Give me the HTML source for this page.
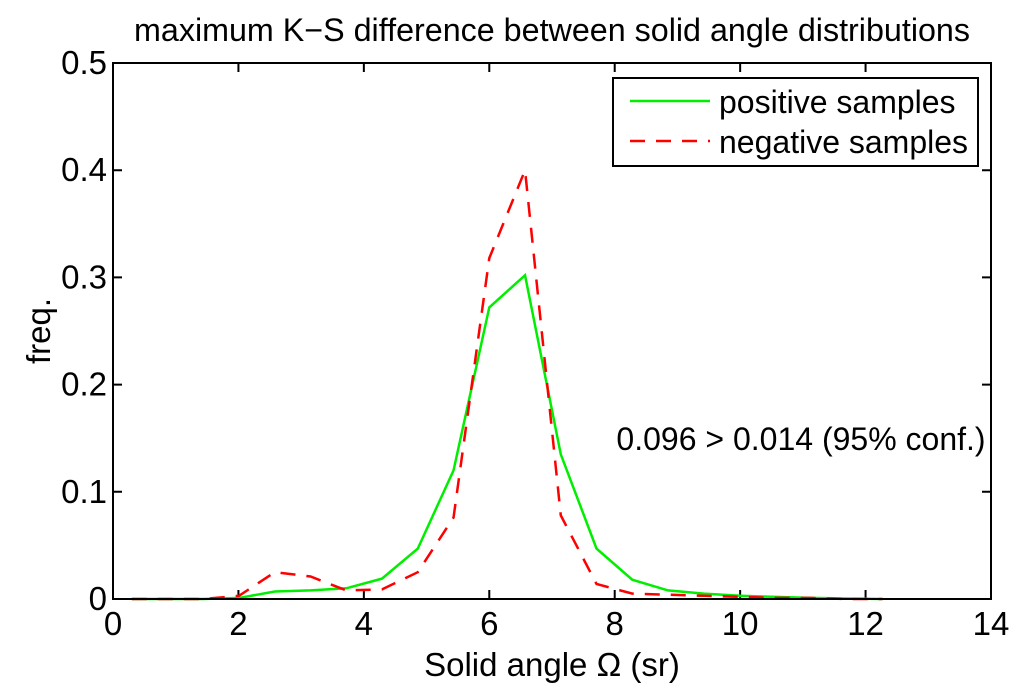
<!DOCTYPE html>
<html><head><meta charset="utf-8"><style>
body{margin:0;background:#fff;}
svg text{font-family:"Liberation Sans",sans-serif;fill:#000;}
</style></head><body>
<svg id="chart" width="1024" height="691">
<text x="552" y="41" font-size="32" text-anchor="middle" textLength="836" lengthAdjust="spacingAndGlyphs">maximum K−S difference between solid angle distributions</text>
<g id="ticks"></g>
<g id="series"></g>
<rect x="113" y="63" width="878" height="536" fill="none" stroke="#000" stroke-width="2"/>
<text x="552" y="676" font-size="33" text-anchor="middle">Solid angle Ω (sr)</text>
<text transform="translate(50,331) rotate(-90)" font-size="33" text-anchor="middle">freq.</text>
<text x="801" y="450" font-size="32" text-anchor="middle">0.096 &gt; 0.014 (95% conf.)</text>
<g>
<rect x="613" y="78" width="365" height="88" fill="#fff" stroke="#000" stroke-width="2"/>
<line x1="630" y1="101" x2="710" y2="101" stroke="#00ee00" stroke-width="2.5"/>
<text x="719" y="113" font-size="32">positive samples</text>
<line x1="630" y1="141" x2="710" y2="141" stroke="#ff0000" stroke-width="2.5" stroke-dasharray="15,11"/>
<text x="719" y="153" font-size="32">negative samples</text>
</g>
</svg>
<script>
const xCenters=[0.3,0.87,1.44,2.01,2.58,3.15,3.72,4.29,4.86,5.43,6.0,6.57,7.14,7.71,8.28,8.85,9.42,10.0,10.56,11.13,11.7,12.27];
const positive=[0,0,0,0.001,0.007,0.008,0.01,0.019,0.047,0.12,0.272,0.302,0.135,0.047,0.018,0.008,0.005,0.003,0.002,0.001,0.0005,0];
const negative=[0,0,0,0.003,0.025,0.021,0.008,0.009,0.025,0.076,0.318,0.400,0.078,0.014,0.005,0.004,0.003,0.002,0.001,0.001,0,0];
const xTicks=[0,2,4,6,8,10,12,14];
const yTicks=[0,0.1,0.2,0.3,0.4,0.5];
const NS="http://www.w3.org/2000/svg";
const X0=113,X1=991,Y0=599,Y1=63;
function sx(v){return X0+(v-0)/(14-0)*(X1-X0);}
function sy(v){return Y0-(v-0)/(0.5-0)*(Y0-Y1);}
const tg=document.getElementById('ticks');
xTicks.forEach(t=>{
  const x=sx(t);
  const l=document.createElementNS(NS,'path');
  l.setAttribute('d',`M${x},${Y0}v-9M${x},${Y1}v9`);
  l.setAttribute('stroke','#000');l.setAttribute('stroke-width','2');
  
  
  tg.appendChild(l);
  const tx=document.createElementNS(NS,'text');
  tx.setAttribute('x',x);tx.setAttribute('y',Y0+36);
  tx.setAttribute('font-size','33');tx.setAttribute('text-anchor','middle');
  tx.textContent=t;
  
  
  tg.appendChild(tx);
});
yTicks.forEach(t=>{
  const y=sy(t);
  const l=document.createElementNS(NS,'path');
  l.setAttribute('d',`M${X0},${y}h9M${X1},${y}h-9`);
  l.setAttribute('stroke','#000');l.setAttribute('stroke-width','2');
  
  
  tg.appendChild(l);
  const tx=document.createElementNS(NS,'text');
  tx.setAttribute('x',X0-6);tx.setAttribute('y',y+11);
  tx.setAttribute('font-size','33');tx.setAttribute('text-anchor','end');
  tx.textContent=t===0?'0':t.toFixed(1);
  
  
  tg.appendChild(tx);
});
const sg=document.getElementById('series');
function line(vals,color,dash,name){
  const p=document.createElementNS(NS,'polyline');
  p.setAttribute('points',vals.map((v,i)=>sx(xCenters[i])+','+sy(v)).join(' '));
  p.setAttribute('fill','none');p.setAttribute('stroke',color);p.setAttribute('stroke-width','2.5');
  if(dash)p.setAttribute('stroke-dasharray',dash);
  
  
  sg.appendChild(p);
}
line(positive,'#00ee00',null,'positive-samples-line');
line(negative,'#ff0000','15,11','negative-samples-line');
</script>
</body></html>
